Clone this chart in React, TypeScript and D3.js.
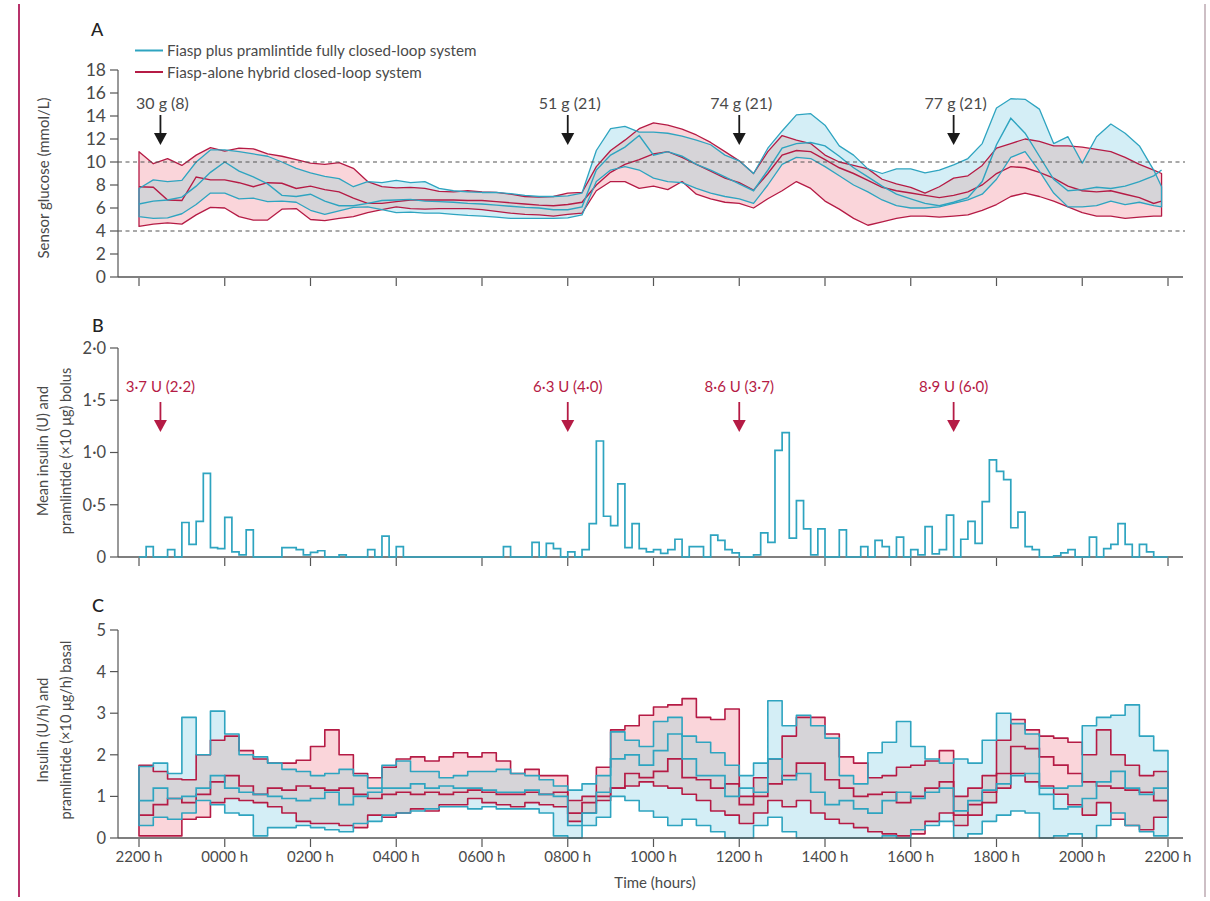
import React from 'react';
import * as d3 from 'd3';

// x axis: hours after 2200 h
const hourLabels = ['2200 h', '0000 h', '0200 h', '0400 h', '0600 h', '0800 h', '1000 h', '1200 h', '1400 h', '1600 h', '1800 h', '2000 h', '2200 h'];
const hourTicks = [0, 2, 4, 6, 8, 10, 12, 14, 16, 18, 20, 22, 24];

// meals (hours after 2200 h) and annotations
const mealTimes = [0.5, 10, 14, 19];
const mealLabels = ['30 g (8)', '51 g (21)', '74 g (21)', '77 g (21)'];
const bolusLabels = ['3·7 U (2·2)', '6·3 U (4·0)', '8·6 U (3·7)', '8·9 U (6·0)'];

const glucoseTicks = [0, 2, 4, 6, 8, 10, 12, 14, 16, 18];
const bolusTicks = [0, 0.5, 1, 1.5, 2];
const bolusTickLabels = ['0', '0·5', '1·0', '1·5', '2·0'];
const basalTicks = [0, 1, 2, 3, 4, 5];

// A: sensor glucose, every 20 min (last sample at 2151 h)
const gluTimes = d3.range(72).map(i => i / 3).concat([23.85]);
const redHiA = [10.9, 9.85, 10.3, 9.7, 10.6, 11.25, 10.95, 11.2, 11.15, 10.7, 10.5, 10.2, 9.9, 9.8, 9.95, 9.45, 8.3, 7.85, 7.75, 7.8,
  7.7, 7.45, 7.4, 7.5, 7.4, 7.35, 7.2, 7.0, 6.95, 7.0, 7.3, 7.35, 9.6, 11.0, 11.9, 12.9, 13.4, 13.2, 12.85, 12.35, 11.7, 10.9, 10.1, 9.0, 10.9, 12.3, 11.9, 11.6,
  10.6, 10.0, 9.7, 9.4, 8.5, 8.1, 7.8, 7.3, 7.85, 8.6, 8.8, 9.7,
  11.2, 11.6, 12.0, 11.8, 11.4, 11.4, 11.3, 11.1, 10.9, 10.4, 9.8, 9.3, 9.0];
const redMedA = [7.85, 7.8, 6.7, 6.65, 8.7, 8.45, 8.45, 8.2, 7.85, 8.2, 8.15, 7.7, 7.9, 7.6, 7.4, 6.85, 6.4, 6.4, 6.55, 6.7,
  6.7, 6.7, 6.7, 6.65, 6.65, 6.55, 6.45, 6.35, 6.25, 6.2, 6.3, 6.5, 8.0, 9.1, 9.8, 10.2, 10.7, 10.9, 10.4, 9.8, 9.2, 8.6, 8.2, 7.55, 9.0, 10.6, 11.0, 10.9,
  10.2, 9.5, 9.0, 8.4, 7.8, 7.5, 7.3, 7.1, 6.9, 7.1, 7.4, 8.0,
  9.0, 9.6, 9.5, 9.1, 8.6, 7.9, 7.5, 7.4, 7.5, 7.2, 6.9, 6.4, 6.6];
const redLoA = [4.4, 4.6, 4.7, 4.6, 5.4, 6.05, 6.0, 5.25, 4.95, 4.95, 5.9, 5.95, 5.0, 4.9, 5.1, 5.25, 5.6, 5.85, 6.1, 5.95,
  5.9, 5.95, 5.95, 5.95, 5.85, 5.7, 5.55, 5.45, 5.4, 5.3, 5.45, 5.55, 7.5, 8.3, 8.3, 7.7, 7.9, 7.6, 8.3, 7.2, 6.8, 6.5, 6.4, 6.0, 6.8, 7.5, 8.3, 7.7,
  6.6, 5.9, 5.1, 4.5, 4.8, 5.1, 5.3, 5.3, 5.2, 5.3, 5.4, 5.8,
  6.3, 7.0, 7.3, 7.0, 6.6, 6.1, 5.6, 5.3, 5.3, 5.1, 5.2, 5.3, 5.3];
const blueHiA = [7.7, 8.45, 8.3, 8.4, 10.0, 11.05, 11.05, 10.9, 10.7, 10.5, 10.0, 9.45, 9.05, 8.75, 8.55, 7.85, 8.3, 8.2, 8.4, 8.2,
  8.3, 7.7, 7.5, 7.4, 7.35, 7.35, 7.25, 7.1, 7.0, 7.0, 7.05, 7.3, 11.0, 12.9, 13.1, 12.6, 12.6, 12.5, 12.25, 11.9, 11.5, 10.6, 10.1, 9.0, 11.2, 12.7, 14.1, 14.2,
  13.2, 11.4, 10.6, 9.4, 9.0, 9.4, 9.4, 9.05, 9.3, 9.75, 10.3, 11.6,
  14.7, 15.5, 15.45, 14.6, 11.6, 12.2, 9.9, 12.2, 13.3, 12.5, 11.4, 9.3, 7.85];
const blueMedA = [6.35, 6.6, 6.7, 6.95, 7.9, 9.1, 10.0, 9.2, 8.7, 8.1, 7.1, 7.0, 7.2, 6.6, 6.2, 6.2, 6.4, 6.65, 6.7, 6.75,
  6.6, 6.55, 6.5, 6.4, 6.35, 6.25, 6.15, 6.05, 6.0, 5.85, 5.85, 6.1, 9.3, 10.6, 11.3, 12.3, 10.6, 10.9, 10.5, 9.8, 9.3, 8.7, 8.1, 7.5, 9.3, 11.2, 11.6, 11.7,
  11.4, 10.5, 9.5, 8.7, 7.9, 7.2, 6.8, 6.4, 6.2, 6.5, 6.9, 8.3,
  11.5, 13.8, 12.5, 10.5, 8.5, 7.5, 7.6, 7.8, 7.7, 7.9, 8.3, 8.8, 9.3];
const blueLoA = [5.25, 5.1, 5.15, 5.5, 6.3, 7.3, 7.3, 6.8, 6.85, 6.55, 6.6, 6.5, 5.8, 5.45, 5.75, 6.05, 6.1, 5.85, 5.6, 5.65,
  5.55, 5.55, 5.45, 5.35, 5.3, 5.2, 5.1, 5.1, 5.1, 5.1, 5.15, 5.4, 8.3, 9.3, 9.6, 9.3, 8.6, 8.3, 8.2, 7.7, 7.3, 7.0, 6.8, 6.4, 8.0, 9.8, 10.4, 10.3,
  9.6, 8.8, 8.0, 7.4, 6.7, 6.2, 6.0, 6.0, 6.1, 6.4, 6.7, 7.2,
  8.5, 10.4, 10.9, 9.2, 7.3, 6.1, 6.1, 6.2, 6.6, 6.3, 6.5, 6.2, 6.1];

// B: mean bolus, 10-min bins (Fiasp plus pramlintide)
const bolusBins = [
  0, 0.1, 0, 0, 0.07, 0, 0.33, 0.12, 0.34, 0.8, 0.09, 0.08,
  0.38, 0.05, 0.02, 0.26, 0, 0, 0, 0, 0.09, 0.09, 0.07, 0.02,
  0.045, 0.06, 0, 0, 0.02, 0, 0, 0, 0.07, 0, 0.2, 0,
  0.1, 0, 0, 0, 0, 0, 0, 0, 0, 0, 0, 0,
  0, 0, 0, 0.1, 0, 0, 0, 0.14, 0, 0.13, 0.08, 0,
  0.05, 0, 0.07, 0.32, 1.11, 0.39, 0.3, 0.7, 0.09, 0.32, 0.08, 0.05,
  0.07, 0.035, 0.07, 0.17, 0, 0.1, 0.1, 0, 0.21, 0.16, 0.07, 0.04,
  0, 0, 0.02, 0.23, 0.14, 1.02, 1.19, 0.18, 0.54, 0.27, 0.02, 0.27,
  0, 0, 0.26, 0, 0, 0.1, 0, 0.16, 0.1, 0, 0.19, 0,
  0.07, 0.02, 0.29, 0.03, 0.07, 0.4, 0, 0.17, 0.34, 0.13, 0.53, 0.93,
  0.82, 0.74, 0.28, 0.43, 0.1, 0.07, 0, 0, 0.01, 0.04, 0.07, 0,
  0, 0.19, 0, 0.08, 0.12, 0.32, 0.12, 0, 0.12, 0.05, 0, 0];

// C: basal rate, 20-min bins
const blueHiC = [1.72, 1.8, 1.55, 2.9, 2.0, 3.05, 2.5, 2.0, 1.95, 1.8, 1.65, 1.6, 1.5, 1.55, 1.65, 1.5, 1.2, 1.75, 1.85, 1.6, 1.6, 1.45, 1.5, 1.6,
  1.6, 1.65, 1.55, 1.5, 1.4, 1.25, 1.15, 1.3, 1.5, 2.55, 2.35, 2.2, 2.8, 2.9, 2.45, 2.3, 2.05, 1.75, 1.5, 1.8, 3.3, 2.7, 2.95, 2.7,
  2.4, 1.5, 1.3, 2.05, 2.3, 2.8, 2.2, 1.9, 1.8, 1.9, 1.8, 2.35, 3.0, 2.75, 2.5, 1.2, 1.2, 1.25, 2.7, 2.9, 2.95, 3.2, 2.45, 2.1];
const blueMedC = [0.9, 1.2, 0.95, 1.0, 1.2, 1.5, 1.2, 1.1, 1.05, 1.0, 0.95, 0.9, 0.95, 1.1, 0.8, 1.0, 1.1, 1.2, 1.2, 1.3, 1.2, 1.25, 1.2, 1.2,
  1.15, 1.1, 1.1, 1.15, 1.05, 1.0, 0.3, 0.6, 1.1, 1.9, 2.0, 1.75, 2.1, 2.5, 1.9, 1.5, 1.5, 1.0, 1.2, 1.1, 1.9, 1.4, 1.55, 1.1,
  0.8, 0.9, 0.7, 0.6, 0.9, 1.1, 0.95, 1.1, 1.2, 0.65, 0.9, 1.15, 1.3, 1.5, 1.55, 1.05, 0.7, 0.75, 0.95, 1.35, 1.6, 1.2, 1.05, 1.2];
const blueLoC = [0.3, 0.5, 0.45, 0.6, 0.9, 0.8, 0.6, 0.55, 0.05, 0.25, 0.25, 0.3, 0.25, 0.2, 0.15, 0.35, 0.4, 0.55, 0.6, 0.65, 0.7, 0.75, 0.75, 0.7,
  0.75, 0.7, 0.7, 0.7, 0.6, 0.05, 0, 0.3, 0.5, 1.0, 0.9, 0.65, 0.5, 0.3, 0.45, 0.3, 0.15, 0, 0, 0.3, 0.5, 0.15, 0, 0,
  0, 0, 0, 0, 0.05, 0, 0.2, 0.3, 0.4, 0, 0.1, 0.4, 0.55, 0.65, 0.6, 0, 0.05, 0.1, 0, 0.3, 0.6, 0.3, 0.15, 0.05];
const redHiC = [1.75, 1.6, 1.42, 1.4, 2.0, 2.35, 2.45, 2.1, 1.9, 1.8, 1.8, 1.87, 2.2, 2.6, 2.0, 1.55, 1.45, 1.7, 1.9, 1.95, 1.85, 1.95, 2.05, 1.95,
  2.05, 1.85, 1.55, 1.65, 1.5, 1.5, 0.9, 1.0, 1.7, 2.6, 2.7, 2.95, 3.15, 3.2, 3.35, 2.9, 2.85, 3.1, 1.0, 1.45, 1.9, 2.45, 2.9, 2.9,
  2.5, 1.95, 1.8, 1.45, 1.5, 1.7, 1.75, 1.85, 2.1, 1.0, 1.2, 1.5, 2.35, 2.85, 2.6, 2.45, 2.4, 2.3, 2.0, 2.6, 2.0, 1.75, 1.5, 1.6];
const redMedC = [0.55, 0.8, 0.95, 0.85, 1.05, 1.35, 1.5, 1.25, 1.05, 1.2, 1.15, 1.25, 1.2, 1.15, 1.2, 1.05, 0.95, 1.05, 1.1, 1.05, 1.1, 1.05, 1.1, 1.15,
  1.1, 1.05, 1.05, 1.1, 1.05, 1.1, 0.6, 0.85, 1.0, 1.2, 1.55, 1.45, 1.6, 1.9, 1.45, 1.4, 1.2, 1.3, 0.8, 1.0, 1.3, 1.5, 1.8, 1.8,
  1.4, 1.2, 1.0, 1.05, 1.1, 0.85, 1.0, 1.2, 1.35, 0.55, 0.8, 1.1, 1.55, 2.2, 2.15, 1.95, 1.75, 1.55, 1.35, 1.25, 1.2, 1.15, 1.1, 0.9];
const redLoC = [0.05, 0.05, 0.05, 0.45, 0.5, 0.85, 0.95, 0.9, 0.85, 0.75, 0.6, 0.4, 0.35, 0.35, 0.3, 0.25, 0.55, 0.5, 0.6, 0.7, 0.65, 0.8, 0.8, 0.95,
  0.85, 0.8, 0.75, 0.85, 0.8, 0.75, 0.4, 0.6, 0.9, 1.2, 1.25, 1.35, 1.25, 1.2, 1.05, 0.9, 0.65, 0.55, 0.35, 0.6, 0.9, 0.75, 0.9, 0.6,
  0.45, 0.35, 0.25, 0.15, 0.1, 0.05, 0.1, 0.4, 0.6, 0.3, 0.55, 0.85, 1.2, 1.55, 1.35, 1.25, 1.05, 0.8, 0.55, 0.85, 0.45, 0.3, 0.2, 0.5];

const BLUE = '#2ea4c0';
const RED = '#b51b45';
const BLUE_FILL = '#d4eef6';
const RED_FILL = '#fad5da';
const BOTH_FILL = '#d6d4d8';
const AXIS = '#555';
const TEXT = '#4a4a4a';
const FONT = 'Lato, "Open Sans", sans-serif';

const x = d3.scaleLinear().domain([0, 24]).range([139, 1168]);
const yA = d3.scaleLinear().domain([0, 18]).range([277, 70]);
const yB = d3.scaleLinear().domain([0, 2]).range([557, 348]);
const yC = d3.scaleLinear().domain([0, 5]).range([838, 630]);

const stepTimes = (n: number, per: number) => d3.range(n + 1).map(i => i / per);
const pad = (v: number[]) => v.concat([v[v.length - 1]]);

function bandPath(times: number[], lo: number[], hi: number[], y: any, curve: any) {
  return d3.area<number>().curve(curve)
    .x(t => x(t)).y0((_, i) => y(lo[i])).y1((_, i) => y(hi[i]))(times) || '';
}
function linePath(times: number[], v: number[], y: any, curve: any) {
  return d3.line<number>().curve(curve).x(t => x(t)).y((_, i) => y(v[i]))(times) || '';
}

function YAxis({ y, ticks, labels, size }: any) {
  const [y0, y1] = y.range();
  return (
    <g>
      <line x1={118} x2={118} y1={y0} y2={y1} stroke={AXIS} strokeWidth={1.2} />
      {ticks.map((t: number, i: number) => (
        <g key={i}>
          <line x1={110} x2={118} y1={y(t)} y2={y(t)} stroke={AXIS} strokeWidth={1.2} />
          <text x={106} y={y(t)} dy="0.36em" textAnchor="end" fontSize={size} fill={TEXT}>{labels[i]}</text>
        </g>
      ))}
    </g>
  );
}

function XAxis({ yPos, showLabels }: any) {
  return (
    <g>
      <line x1={118} x2={1183} y1={yPos} y2={yPos} stroke={AXIS} strokeWidth={1.4} />
      {hourTicks.map((t, i) => (
        <g key={i}>
          <line x1={x(t)} x2={x(t)} y1={yPos + 1} y2={yPos + 9} stroke={AXIS} strokeWidth={1.2} />
          {showLabels && <text x={x(t)} y={yPos + 24} textAnchor="middle" fontSize={15} fill={TEXT}>{hourLabels[i]}</text>}
        </g>
      ))}
    </g>
  );
}

function Arrow({ cx, top, bottom, color }: any) {
  return (
    <g>
      <line x1={cx} x2={cx} y1={top} y2={bottom - 11} stroke={color} strokeWidth={1.8} />
      <polygon points={`${cx - 6.5},${bottom - 12} ${cx + 6.5},${bottom - 12} ${cx},${bottom}`} fill={color} />
    </g>
  );
}

function Bands({ id, times, bLo, bMed, bHi, rLo, rMed, rHi, y, curve, sw }: any) {
  const blueArea = bandPath(times, bLo, bHi, y, curve);
  const redArea = bandPath(times, rLo, rHi, y, curve);
  return (
    <g>
      <defs>
        <clipPath id={id}><path d={redArea} /></clipPath>
      </defs>
      <path d={blueArea} fill={BLUE_FILL} />
      <path d={redArea} fill={RED_FILL} />
      <path d={blueArea} fill={BOTH_FILL} clipPath={`url(#${id})`} />
      <path d={redArea} fill="none" stroke={RED} strokeWidth={sw} strokeLinejoin="round" />
      <path d={linePath(times, rMed, y, curve)} fill="none" stroke={RED} strokeWidth={sw + 0.1} />
      <path d={blueArea} fill="none" stroke={BLUE} strokeWidth={sw} strokeLinejoin="round" />
      <path d={linePath(times, bMed, y, curve)} fill="none" stroke={BLUE} strokeWidth={sw + 0.1} />
    </g>
  );
}

export default function App() {
  const basalT = stepTimes(72, 3);
  const bolusT = stepTimes(144, 6);
  return (
    <svg width={1210} height={901} style={{ display: 'block', position: 'absolute', left: 0, top: 0 }} fontFamily={FONT}>
      <rect width={1210} height={901} fill="#fff" />
      <line x1={19} x2={19} y1={4} y2={897} stroke="#b8336b" strokeWidth={2} />
      <line x1={1205} x2={1205} y1={4} y2={897} stroke="#cdbfc5" strokeWidth={2} />

      {/* Panel A */}
      <text x={91} y={36} fontSize={18} fill="#222" fontWeight={500}>A</text>
      <line x1={135} x2={163} y1={50.5} y2={50.5} stroke={BLUE} strokeWidth={2} />
      <text x={167} y={56} fontSize={15.2} fill={TEXT}>Fiasp plus pramlintide fully closed-loop system</text>
      <line x1={135} x2={163} y1={72} y2={72} stroke={RED} strokeWidth={2} />
      <text x={167} y={77.5} fontSize={15.2} fill={TEXT}>Fiasp-alone hybrid closed-loop system</text>
      <text transform="translate(49,178) rotate(-90)" textAnchor="middle" fontSize={15} fill={TEXT}>Sensor glucose (mmol/L)</text>
      <Bands id="clipA" times={gluTimes} bLo={blueLoA} bMed={blueMedA} bHi={blueHiA}
        rLo={redLoA} rMed={redMedA} rHi={redHiA} y={yA} curve={d3.curveLinear} sw={1.3} />
      {[10, 4].map(v => (
        <line key={v} x1={118} x2={1185} y1={yA(v)} y2={yA(v)} stroke="#555" strokeWidth={1.2} strokeDasharray="4 3.5" />
      ))}
      <YAxis y={yA} ticks={glucoseTicks} labels={glucoseTicks.map(String)} size={17.5} />
      <XAxis yPos={277} showLabels={false} />
      {mealTimes.map((t, i) => (
        <g key={i}>
          <text x={x(t) + 2} y={109} textAnchor="middle" fontSize={16} fill={TEXT}>{mealLabels[i]}</text>
          <Arrow cx={x(t)} top={115} bottom={145} color="#1a1a1a" />
        </g>
      ))}

      {/* Panel B */}
      <text x={92} y={332} fontSize={18} fill="#222" fontWeight={500}>B</text>
      <text transform="translate(48,451) rotate(-90)" textAnchor="middle" fontSize={14.5} fill={TEXT}>Mean insulin (U) and</text>
      <text transform="translate(71,451) rotate(-90)" textAnchor="middle" fontSize={14.5} fill={TEXT}>pramlintide (×10 μg) bolus</text>
      <YAxis y={yB} ticks={bolusTicks} labels={bolusTickLabels} size={16.5} />
      <XAxis yPos={557} showLabels={false} />
      <path d={linePath(bolusT, pad(bolusBins), yB, d3.curveStepAfter)} fill="none" stroke={BLUE} strokeWidth={1.7} />
      {mealTimes.map((t, i) => (
        <g key={i}>
          <text x={x(t)} y={392} textAnchor="middle" fontSize={15} fill={RED}>{bolusLabels[i]}</text>
          <Arrow cx={x(t)} top={402} bottom={432} color={RED} />
        </g>
      ))}

      {/* Panel C */}
      <text x={92} y={612} fontSize={18} fill="#222" fontWeight={500}>C</text>
      <text transform="translate(48,730) rotate(-90)" textAnchor="middle" fontSize={14.5} fill={TEXT}>Insulin (U/h) and</text>
      <text transform="translate(71,730) rotate(-90)" textAnchor="middle" fontSize={14.5} fill={TEXT}>pramlintide (×10 μg/h) basal</text>
      <Bands id="clipC" times={basalT} bLo={pad(blueLoC)} bMed={pad(blueMedC)} bHi={pad(blueHiC)}
        rLo={pad(redLoC)} rMed={pad(redMedC)} rHi={pad(redHiC)} y={yC} curve={d3.curveStepAfter} sw={1.6} />
      <YAxis y={yC} ticks={basalTicks} labels={basalTicks.map(String)} size={16.5} />
      <XAxis yPos={838} showLabels={true} />
      <text x={655} y={888} textAnchor="middle" fontSize={15} fill={TEXT}>Time (hours)</text>
    </svg>
  );
}
